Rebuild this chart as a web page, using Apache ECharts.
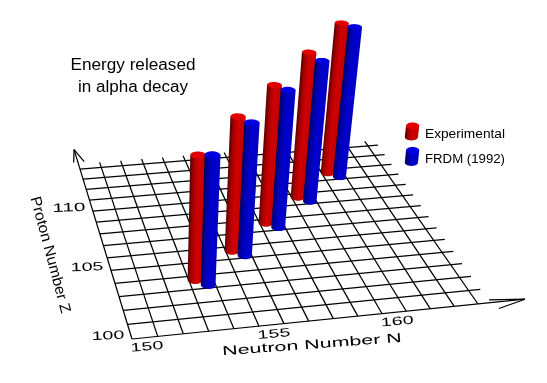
<!DOCTYPE html>
<html><head><meta charset="utf-8">
<style>html,body{margin:0;padding:0;background:#fff}#c{width:547px;height:383px}</style>
<script src="https://cdn.jsdelivr.net/npm/echarts@6/dist/echarts.min.js"></script>
</head><body><div id="c"></div>
<script>
// Data
const neutronTicks = [150,151,152,153,154,155,156,157,158,159,160,161,162,163,164];
const protonTicks  = [100,101,102,103,104,105,106,107,108,109,110,111,112,113,114];
const neutronLabels = [150,155,160];
const protonLabels  = [100,105,110];
const expN = [153.25,155.26,157.25,159.25,161.25];
const expZ = [103.68,105.64,107.65,109.65,111.65];
const expE = [9.04,9.85,10.31,10.99,11.56];
const frdmN = [153.7,155.71,157.7,159.7,161.7];
const frdmZ = [103.23,105.19,107.2,109.2,111.2];
const frdmE = [9.35,9.72,10.24,10.65,11.53];

// Perspective camera of the floor plane and the vertical direction
const H = {a:367.1,b:-34.54,c:132,d:-21.57,e:-133.11,f:339,g:0.04418,h:0.21826};
const VAN = [150,2000], KE = -0.008, R = 0.3;
const W = 547, HT = 383;

function project(api, n, z, e) {
  const p = api.coord([n, z]);
  const s = p[0] / W, t = (HT - p[1]) / HT, k = KE * (e || 0);
  const w = H.g*s + H.h*t + 1 + k;
  return [(H.a*s + H.b*t + H.c + k*VAN[0]) / w, (H.d*s + H.e*t + H.f + k*VAN[1]) / w];
}
const mc = document.createElement('canvas').getContext('2d');
function fitScale(text, font, width) { mc.font = font; return width / mc.measureText(text).width; }
function label(text, x, y, font, width, rot, z2) {
  return {type:'text', x, y, rotation:(rot||0)*Math.PI/180, scaleX:fitScale(text,font,width), z2:z2||1,
    style:{text:String(text), font, fill:'#000', align:'center', verticalAlign:'middle'}};
}
const line = (a,b) => ({type:'line', z2:1, shape:{x1:a[0],y1:a[1],x2:b[0],y2:b[1]}, style:{stroke:'#000',lineWidth:1.25,fill:null}});

function renderFloor(params, api) {
  if (params.dataIndex !== 0) return null;
  const P = (n,z) => project(api,n,z,0);
  const ch = [];
  protonTicks.forEach((z,i)=>ch.push(line(P(150,z), P(i===0?166:164.5,z))));
  neutronTicks.forEach((n,i)=>ch.push(line(P(n,100), P(n,i===0?116:114.5))));
  // arrow heads
  ch.push(line(P(166,100),P(164.55,100.2)), line(P(166,100),P(164.7,99.55)));
  ch.push(line(P(150,116),P(149.8,114.7)), line(P(150,116),P(150.3,114.7)));
  neutronLabels.forEach(n=>{const p=P(n,100); ch.push(label(n,p[0]+15,p[1]+8,'12px "Liberation Sans"',33,5));});
  protonLabels.forEach(z=>{const p=P(150,z); ch.push(label(z,p[0]-24,p[1]-3,'12px "Liberation Sans"',33,2));});
  ch.push(label('Neutron Number N',312,345,'13px "Liberation Sans"',180,4.3));
  ch.push(label('Proton Number Z',50,255,'15px "Liberation Sans"',120,-75));
  return {type:'group', children:ch};
}

function cylinder(api, stops, capColor) {
  const n=api.value(0), z=api.value(1), e=api.value(2);
  const bot=[], top=[];
  for(let i=0;i<36;i++){const a=i/36*2*Math.PI;
    bot.push(project(api,n+R*Math.cos(a),z+R*Math.sin(a),0));
    top.push(project(api,n+R*Math.cos(a),z+R*Math.sin(a),e));}
  const cb=project(api,n,z,0), ct=project(api,n,z,e);
  let ax=ct[0]-cb[0], ay=ct[1]-cb[1]; const L=Math.hypot(ax,ay); ax/=L; ay/=L;
  const perp=[-ay,ax].map(v=>v*(-ay<0?-1:1)); // points to screen right
  const ext=(arr,c)=>{let mi=0,ma=0,dm=1e9,dx=-1e9;arr.forEach((p,i)=>{const d=(p[0]-c[0])*perp[0]+(p[1]-c[1])*perp[1];
    if(d<dm){dm=d;mi=i} if(d>dx){dx=d;ma=i}});return{mi,ma,dm,dx}};
  const eb=ext(bot,cb), et=ext(top,ct);
  const arc=(from,to,dir)=>{const o=[];let i=from;while(true){o.push(bot[i]);if(i===to)break;i=(i+dir+36)%36}return o};
  const a1=arc(eb.ma,eb.mi,1), a2=arc(eb.ma,eb.mi,-1);
  const my=x=>x.reduce((s,p)=>s+p[1],0)/x.length;
  const lower=my(a1)>my(a2)?a1:a2;
  const poly=[top[et.mi],top[et.ma]].concat(lower);
  const mid=[(cb[0]+ct[0])/2,(cb[1]+ct[1])/2], r=(et.dx+eb.dx)/2;
  const fill=new echarts.graphic.LinearGradient(mid[0]-perp[0]*r,mid[1]-perp[1]*r,mid[0]+perp[0]*r,mid[1]+perp[1]*r,stops,true);
  const zo=Math.round((120-z)*10);
  return {type:'group',children:[
    {type:'polygon',z2:zo,shape:{points:poly},style:{fill}},
    {type:'polygon',z2:zo+1,shape:{points:top},style:{fill:capColor}}
  ]};
}
const redStops=[{offset:0,color:'#580000'},{offset:.22,color:'#a00000'},{offset:.55,color:'#d00000'},{offset:1,color:'#c00000'}];
const blueStops=[{offset:0,color:'#000058'},{offset:.22,color:'#0000a0'},{offset:.55,color:'#0000d0'},{offset:1,color:'#0000c0'}];

function swatch(cx,cy,h,stops,cap){
  const rx=6.6, ry=3.4, lean=1.2;
  const x0=cx-lean/2,x1=cx+lean/2,yb=cy+h/2,yt=cy-h/2;
  const pts=[[x1-rx,yt],[x1+rx,yt],[x0+rx,yb]];
  for(let i=1;i<12;i++){const a=i/12*Math.PI;pts.push([x0+rx*Math.cos(a),yb+ry*Math.sin(a)]);}
  pts.push([x0-rx,yb]);
  return [
    {type:'polygon',shape:{points:pts},style:{fill:new echarts.graphic.LinearGradient(cx-rx,0,cx+rx,0,stops,true)}},
    {type:'ellipse',shape:{cx:x1,cy:yt,rx,ry},style:{fill:cap}}
  ];
}
function gtext(text,x,y,font,width){
  return {type:'text',x,y,scaleX:fitScale(text,font,width),silent:true,
    style:{text,font,fill:'#000',textAlign:'center',textVerticalAlign:'middle',x:0,y:0}};
}

const chart=echarts.init(document.getElementById('c'),null,{renderer:'canvas',width:W,height:HT});
chart.setOption({
  animation:false, backgroundColor:'#fff',
  grid:{left:0,right:0,top:0,bottom:0},
  xAxis:{type:'value',min:150,max:164,interval:1,show:false},
  yAxis:{type:'value',min:100,max:114,interval:1,show:false},
  series:[
    {type:'custom',name:'Floor',silent:true,clip:false,renderItem:renderFloor,data:[[150,100]],encode:{x:0,y:1}},
    {type:'custom',name:'Experimental',silent:true,clip:false,encode:{x:0,y:1},
      data:expN.map((n,i)=>[n,expZ[i],expE[i]]),renderItem:(p,api)=>cylinder(api,redStops,'#e00000')},
    {type:'custom',name:'FRDM (1992)',silent:true,clip:false,encode:{x:0,y:1},
      data:frdmN.map((n,i)=>[n,frdmZ[i],frdmE[i]]),renderItem:(p,api)=>cylinder(api,blueStops,'#0000e0')}
  ],
  graphic:[
    gtext('Energy released',133,65.5,'16px "Liberation Sans"',125),
    gtext('in alpha decay',133,87.5,'16px "Liberation Sans"',110),
    gtext('Experimental',465,135,'12px "Liberation Sans"',80),
    gtext('FRDM (1992)',465,159.5,'12px "Liberation Sans"',80),
    ...swatch(412,131.5,11,redStops,'#e00000'),
    ...swatch(412,156.5,12,blueStops,'#0000e0')
  ]
});
</script></body></html>
